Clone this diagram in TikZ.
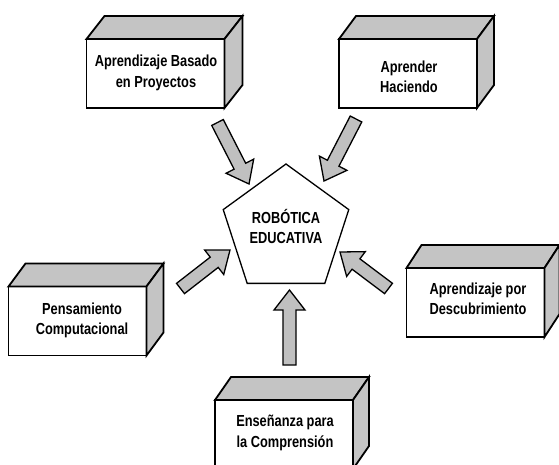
\documentclass[tikz,border=0pt]{standalone}
\usepackage{fontspec}
\setmainfont{Liberation Sans}[FakeStretch=0.8]
\usetikzlibrary{calc,shapes.geometric}
\definecolor{boxgray}{HTML}{C4C4C4}
\definecolor{arrgray}{HTML}{C0C0C0}
\tikzset{
  lbl/.style={font=\fontsize{16}{20.5}\selectfont\bfseries, align=center},
  frontbox/.style={draw=black, line width=1.8pt, fill=white, inner sep=0pt, outer sep=0pt,
    minimum width=138pt, minimum height=69pt},
  cubeface/.style={draw=black, line width=1.8pt, fill=boxgray},
  pent/.style={draw=black, line width=1.3pt, fill=white, regular polygon, regular polygon sides=5,
    minimum size=132pt, inner sep=0pt, outer sep=0pt},
  arrowstyle/.style={draw=black, line width=1.3pt, fill=arrgray}
}
\newcommand\cubebox[2]{%
  \draw[cubeface] (#1.north west) -- ++(#2,-23) -- ($(#1.north east)+(#2,-23)$) -- (#1.north east) -- cycle;
  \draw[cubeface] (#1.north east) -- ++(#2,-23) -- ($(#1.south east)+(#2,-23)$) -- (#1.south east) -- cycle;
}
\newcommand\blockarrow[2]{%
  \coordinate (hb) at ($(#2)!20pt!(#1)$);
  \draw[arrowstyle] ($(#1)!6.5pt!90:(#2)$) -- ($(hb)!6.5pt!90:(#2)$) -- ($(hb)!15.5pt!90:(#2)$)
    -- (#2) -- ($(hb)!15.5pt!-90:(#2)$) -- ($(hb)!6.5pt!-90:(#2)$) -- ($(#1)!6.5pt!-90:(#2)$) -- cycle;
}
\begin{document}
\begin{tikzpicture}[x=1pt, y=-1pt]
  \clip (0,0) rectangle (559,465);
  \fill[white] (0,0) rectangle (559,465);
  % boxes
  \node[frontbox] (abp) at (155.5,73.5) {};
  \cubebox{abp}{18}
  \node[lbl] (abpt) at (156,73) {Aprendizaje Basado\\en Proyectos};
  \node[frontbox] (ah) at (408,73.5) {};
  \cubebox{ah}{17}
  \node[lbl] (aht) at (409,77) {Aprender\\Haciendo};
  \node[frontbox] (pc) at (77.5,321) {};
  \cubebox{pc}{17}
  \node[lbl] (pct) at (82,320.5) {Pensamiento\\Computacional};
  \node[frontbox] (apd) at (475.5,302.5) {};
  \cubebox{apd}{15}
  \node[lbl] (apdt) at (478,299) {Aprendizaje por\\Descubrimiento};
  \node[frontbox] (epc) at (284,434.5) {};
  \cubebox{epc}{16}
  \node[lbl] (epct) at (285,433) {Enseñanza para\\la Comprensión};
  % center
  \node[pent] (rob) at (286,230) {};
  \node[lbl] (robt) at (286,226.5) {ROBÓTICA\\EDUCATIVA};
  % arrows
  \coordinate (t1) at (217.5,122.5); \coordinate (h1) at (249,184);
  \coordinate (t2) at (356,119);     \coordinate (h2) at (324,181);
  \coordinate (t3) at (180.5,288.5); \coordinate (h3) at (230,250);
  \coordinate (t4) at (388.5,288.5); \coordinate (h4) at (340,252);
  \coordinate (t5) at (289.5,365);   \coordinate (h5) at (289.5,290);
  \blockarrow{t1}{h1}
  \blockarrow{t2}{h2}
  \blockarrow{t3}{h3}
  \blockarrow{t4}{h4}
  \blockarrow{t5}{h5}
\end{tikzpicture}
\end{document}
